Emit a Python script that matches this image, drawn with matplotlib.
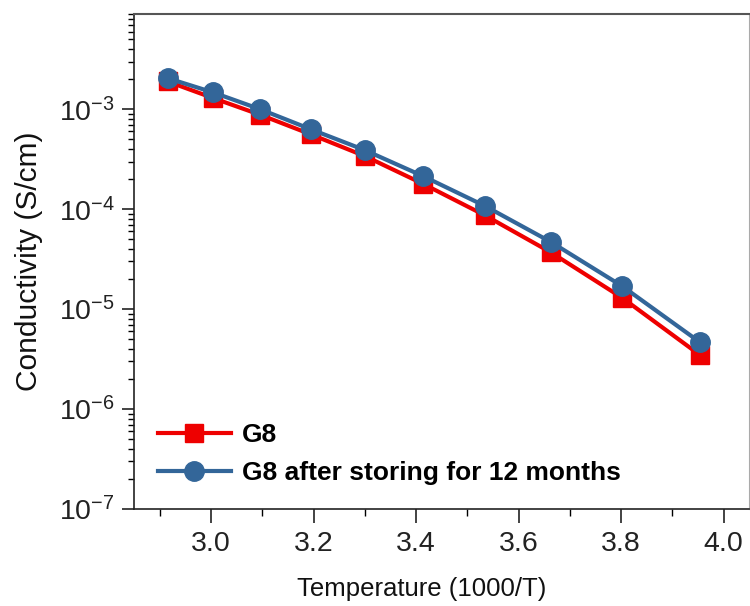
import matplotlib
matplotlib.use("Agg")
import matplotlib.pyplot as plt
from matplotlib.ticker import LogLocator, MultipleLocator, NullFormatter

plt.rcParams["font.family"] = ["Liberation Sans", "DejaVu Sans"]
plt.rcParams["mathtext.fontset"] = "custom"
plt.rcParams["mathtext.rm"] = "Liberation Sans"

# 1000/T values
inv_temp = [2.915, 3.003, 3.096, 3.195, 3.300, 3.413, 3.534, 3.663, 3.802, 3.953]

# Conductivity (S/cm)
g8 = [1.9e-3, 1.3e-3, 8.8e-4, 5.6e-4, 3.4e-4, 1.8e-4, 8.7e-5, 3.7e-5, 1.3e-5, 3.5e-6]
g8_stored = [2.05e-3, 1.48e-3, 1.0e-3, 6.3e-4, 3.9e-4, 2.15e-4, 1.08e-4, 4.7e-5, 1.7e-5, 4.7e-6]

fig = plt.figure(figsize=(7.5, 6.06), dpi=100)
ax = fig.add_axes([0.179, 0.160, 0.820, 0.817])

ax.plot(inv_temp, g8, color="#ee0000", marker="s", markersize=12.5, linewidth=3,
        label="G8")
ax.plot(inv_temp, g8_stored, color="#336699", marker="o", markersize=14, linewidth=3,
        label="G8 after storing for 12 months")

ax.set_yscale("log")
ax.set_ylim(1e-7, 9e-3)
ax.set_xlim(2.85, 4.05)

ax.xaxis.set_major_locator(MultipleLocator(0.2))
ax.xaxis.set_minor_locator(MultipleLocator(0.1))
ax.yaxis.set_major_locator(LogLocator(base=10, numticks=10))
ax.yaxis.set_minor_locator(LogLocator(base=10, subs=range(2, 10), numticks=20))
ax.yaxis.set_minor_formatter(NullFormatter())

ax.tick_params(which="major", direction="out", length=9, width=1.2, labelsize=20.5,
               colors="#222222", top=False, right=False, pad=5)
ax.tick_params(which="minor", direction="out", length=4.5, width=1, top=False, right=False)
ax.tick_params(axis="x", which="major", length=10, pad=6)
ax.tick_params(axis="x", which="minor", length=5)

ax.spines["top"].set_color("#555555")
ax.spines["top"].set_linewidth(1.5)
ax.spines["right"].set_color("#aaaaaa")
ax.spines["left"].set_color("#222222")
ax.spines["left"].set_linewidth(1.2)
ax.spines["bottom"].set_color("#222222")
ax.spines["bottom"].set_linewidth(1.2)

ax.set_xlabel("Temperature (1000/T)", fontsize=18.5, color="#111111")
ax.xaxis.set_label_coords(0.467, -0.138)
ax.set_ylabel("Conductivity (S/cm)", fontsize=21.5, labelpad=11, color="#111111")

ax.legend(loc="lower left", frameon=False, prop={"weight": "bold", "size": 19},
          handlelength=2.75, handletextpad=0.42, borderaxespad=0.5,
          labelspacing=0.55)

fig.savefig("out.png", dpi=100)
